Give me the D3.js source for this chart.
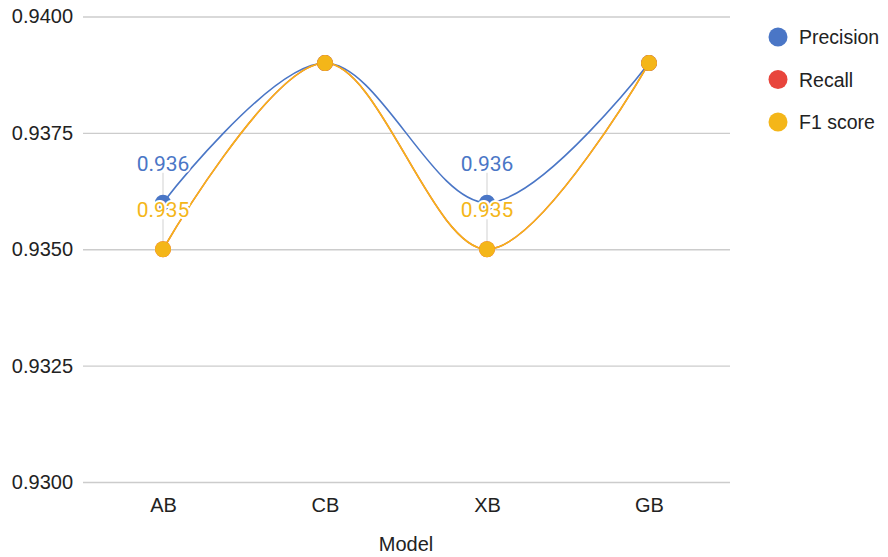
<!DOCTYPE html>
<html>
<head>
<meta charset="utf-8">
<script src="https://cdn.jsdelivr.net/npm/d3@7"></script>
<style>
  html, body { margin: 0; padding: 0; background: #fff; }
  svg { display: block; }
</style>
</head>
<body>
<svg id="chart" width="888" height="557"></svg>
<script>
// Model scores
const models = ["AB", "CB", "XB", "GB"];
const precision = [0.936, 0.939, 0.936, 0.939];
const recall = [0.935, 0.939, 0.935, 0.939];
const f1score = [0.935, 0.939, 0.935, 0.939];
const seriesNames = ["Precision", "Recall", "F1 score"];
const seriesColors = ["#4a76c6", "#e8453c", "#f4b619"];
const yTicks = [0.93, 0.9325, 0.935, 0.9375, 0.94];
// value labels shown on the chart: [series index, model index]
const annotated = [[0, 0], [2, 0], [0, 2], [2, 2]];

const seriesValues = [precision, recall, f1score];

const svg = d3.select("#chart");
const font = "'Liberation Sans', Arial, sans-serif";

const x = d3.scalePoint().domain(models).range([163, 649]);
const y = d3.scaleLinear().domain([0.93, 0.94]).range([482, 16.5]);

// horizontal gridlines + tick labels
const yAxis = d3.axisLeft(y).tickValues(yTicks).tickFormat(d3.format(".4f"))
  .tickSize(-(730 - 83)).tickPadding(10);
const gy = svg.append("g").attr("transform", "translate(83,0)").call(yAxis);
gy.select(".domain").remove();
gy.selectAll(".tick line").attr("stroke", "#cccccc").attr("stroke-width", 1.3);
gy.selectAll(".tick text").attr("font-family", font).attr("font-size", 20).attr("fill", "#222");

// category axis
const xAxis = d3.axisBottom(x).tickSize(0).tickPadding(16);
const gx = svg.append("g").attr("transform", "translate(0,482)").call(xAxis);
gx.select(".domain").remove();
gx.selectAll(".tick text").attr("font-family", font).attr("font-size", 20).attr("fill", "#222");

svg.append("text").attr("x", 406).attr("y", 551).attr("text-anchor", "middle")
  .attr("font-family", font).attr("font-size", 20).attr("fill", "#222").text("Model");

// annotation stems
const labelGap = 30;
annotated.forEach(([s, i]) => {
  const v = seriesValues[s][i];
  svg.append("line")
    .attr("x1", x(models[i])).attr("x2", x(models[i]))
    .attr("y1", y(v)).attr("y2", y(v) - labelGap)
    .attr("stroke", "#d9d9d9").attr("stroke-width", 1.2);
});

// lines
const line = d3.line()
  .x((d, i) => x(models[i]))
  .y(d => y(d))
  .curve(d3.curveCatmullRom.alpha(0));

seriesValues.forEach((vals, s) => {
  svg.append("path").datum(vals)
    .attr("d", line)
    .attr("fill", "none")
    .attr("stroke", seriesColors[s])
    .attr("stroke-width", 1.6);
});

// points
seriesValues.forEach((vals, s) => {
  svg.append("g").selectAll("circle").data(vals).join("circle")
    .attr("cx", (d, i) => x(models[i]))
    .attr("cy", d => y(d))
    .attr("r", 8)
    .attr("fill", seriesColors[s]);
});

// value labels
annotated.forEach(([s, i]) => {
  const v = seriesValues[s][i];
  svg.append("text")
    .attr("x", x(models[i]))
    .attr("y", y(v) - labelGap - 2)
    .attr("text-anchor", "middle")
    .attr("font-family", "Roboto, sans-serif")
    .attr("font-size", 21)
    .attr("fill", seriesColors[s])
    .attr("stroke", "#fff").attr("stroke-width", 4)
    .attr("paint-order", "stroke")
    .text(d3.format(".3f")(v));
});

// legend
const legend = svg.append("g").attr("transform", "translate(778,37)");
seriesNames.forEach((name, s) => {
  const g = legend.append("g").attr("transform", `translate(0,${s * 42.5})`);
  g.append("circle").attr("r", 9.5).attr("fill", seriesColors[s]);
  g.append("text").attr("x", 21).attr("y", 7)
    .attr("font-family", font).attr("font-size", 19.5).attr("fill", "#222").text(name);
});
</script>
</body>
</html>
